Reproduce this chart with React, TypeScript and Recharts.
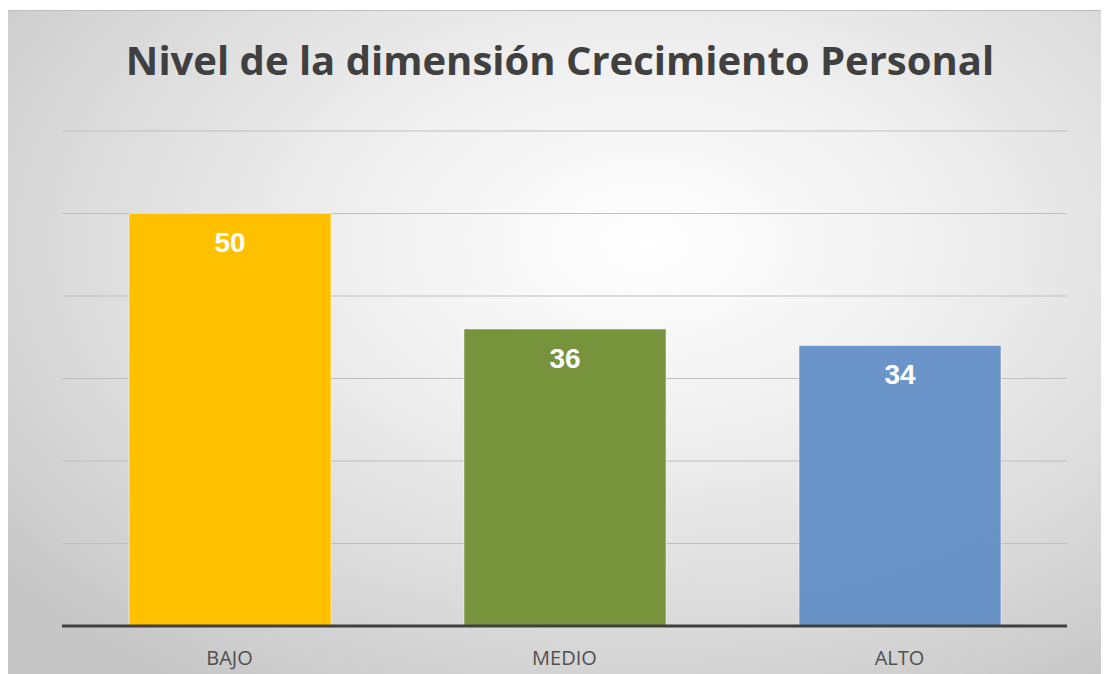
import { BarChart, Bar, XAxis, YAxis, CartesianGrid, Cell, LabelList } from 'recharts'

const categories = ['BAJO', 'MEDIO', 'ALTO']
const values = [50, 36, 34]
const colors = ['#FFC000', '#77933C', '#5F8DC4']
const yTicks = [0, 10, 20, 30, 40, 50, 60]

const data = categories.map((name, i) => ({ name, value: values[i] }))

export default function App() {
  return (
    <div
      style={{
        position: 'relative',
        width: 1101,
        height: 664,
        marginTop: 2,
        borderTop: '1px solid #bdbdbd',
        background: 'radial-gradient(ellipse 75% 80% at 58% 35%, #ffffff 0%, #f0f0f0 35%, #d8d8d8 75%, #c6c6c6 100%)',
      }}
    >
      <div
        style={{
          position: 'absolute',
          top: 21,
          left: 0,
          width: 1104,
          textAlign: 'center',
          fontFamily: '"Open Sans", sans-serif',
          fontWeight: 700,
          fontSize: 40,
          color: '#404040',
        }}
      >
        Nivel de la dimensión Crecimiento Personal
      </div>
      <BarChart
        width={1101}
        height={663}
        data={data}
        margin={{ top: 120, right: 42, left: 54, bottom: 0 }}
        style={{ position: 'absolute', top: 0, left: 0 }}
      >
        <CartesianGrid vertical={false} stroke="#bfbfbf" strokeWidth={1} />
        <YAxis hide domain={[0, 60]} ticks={yTicks} />
        <XAxis
          dataKey="name"
          height={48}
          tickLine={false}
          axisLine={{ stroke: '#404040', strokeWidth: 3 }}
          tick={{ fill: '#505050', fontSize: 20, fontFamily: '"Open Sans", sans-serif' }}
          tickMargin={19}
        />
        <Bar dataKey="value" barSize={202} isAnimationActive={false} stroke="rgba(255,255,255,0.5)" strokeWidth={1}>
          {data.map((d, i) => (
            <Cell key={d.name} fill={colors[i]} fillOpacity={i === 2 ? 0.92 : 1} />
          ))}
          <LabelList
            dataKey="value"
            position="insideTop"
            offset={19}
            fill="#ffffff"
            fontSize={28}
            fontWeight={700}
            fontFamily='"Liberation Sans", Arial, sans-serif'
          />
        </Bar>
      </BarChart>
    </div>
  )
}
